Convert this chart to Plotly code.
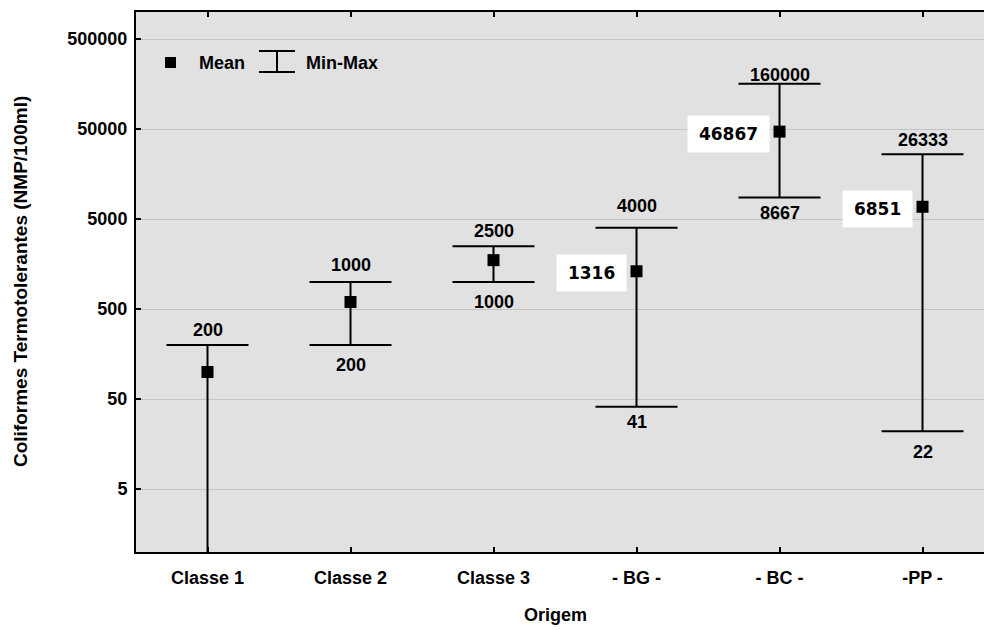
import numpy as np
import plotly.graph_objects as go

# Thermotolerant coliforms by origin: mean with min-max range
categories = ["Classe 1", "Classe 2", "Classe 3", "- BG -", "- BC -", "-PP -"]
mean_vals = [100, 600, 1750, 1316, 46867, 6851]
min_vals = [0, 200, 1000, 41, 8667, 22]
max_vals = [200, 1000, 2500, 4000, 160000, 26333]
mean_labelled = [False, False, False, True, True, True]
min_labelled = [False, True, True, True, True, True]

y_tickvals = [5, 50, 500, 5000, 50000, 500000]
y_ticktext = ["5", "50", "500", "5000", "50000", "500000"]

# label offsets (px) from the caps
max_label_dy = [15, 17, 15, 22, 9, 14]
min_label_dy = [20, 20, 20, 15, 15, 21]

W, H = 984, 630
ML, MR, MT, MB = 136, 0, 12, 78
PW, PH = W - ML - MR, H - MT - MB
FONT = "Liberation Sans, Arial, sans-serif"
TXT = dict(family=FONT, size=18, color="black", weight="bold")
MEAN_TXT = dict(family="DejaVu Sans, Liberation Sans, sans-serif", size=17, color="black", weight="bold")


def px(x):
    return (x - ML) / PW


def py(y):
    return (H - MB - y) / PH


mean_arr = np.array(mean_vals, dtype=float)
err_plus = np.array(max_vals, dtype=float) - mean_arr
err_minus = mean_arr - np.array(min_vals, dtype=float)

fig = go.Figure()
fig.add_trace(go.Scatter(
    x=categories, y=mean_vals, mode="markers",
    marker=dict(symbol="square", size=12, color="black"),
    error_y=dict(type="data", symmetric=False, array=err_plus, arrayminus=err_minus,
                 color="black", thickness=2, width=41),
    showlegend=False, hoverinfo="skip",
))

annotations = []
for i, cat in enumerate(categories):
    annotations.append(dict(
        x=cat, y=np.log10(max_vals[i]), xref="x", yref="y", text=str(max_vals[i]),
        showarrow=False, yshift=max_label_dy[i], font=TXT,
    ))
    if min_labelled[i]:
        annotations.append(dict(
            x=cat, y=np.log10(min_vals[i]), xref="x", yref="y", text=str(min_vals[i]),
            showarrow=False, yshift=-min_label_dy[i], font=TXT,
        ))
    if mean_labelled[i]:
        txt = str(mean_vals[i])
        annotations.append(dict(
            x=cat, y=np.log10(mean_vals[i]), xref="x", yref="y", text="<b>" + txt + "</b>",
            showarrow=False, xanchor="right", xshift=-10, yshift=-2,
            bgcolor="white", borderpad=7, width=len(txt) * 11.8 + 8, height=22,
            font=MEAN_TXT,
        ))

# axis titles
annotations.append(dict(
    x=px(555), y=py(615), xref="paper", yref="paper", text="Origem", showarrow=False,
    xanchor="center", yanchor="middle", font=TXT,
))
annotations.append(dict(
    x=px(20), y=py(282), xref="paper", yref="paper", text="Coliformes Termotolerantes (NMP/100ml)",
    showarrow=False, textangle=-90, xanchor="center", yanchor="middle",
    font=dict(family=FONT, size=19, color="black", weight="bold"),
))

# legend: square marker "Mean", I-beam "Min-Max"
annotations.append(dict(
    x=px(197), y=py(62.5), xref="paper", yref="paper", text="Mean", showarrow=False,
    xanchor="left", yanchor="middle", font=TXT,
))
annotations.append(dict(
    x=px(304), y=py(62.5), xref="paper", yref="paper", text="Min-Max", showarrow=False,
    xanchor="left", yanchor="middle", font=TXT,
))
shapes = [
    dict(type="rect", xref="paper", yref="paper", x0=px(165), x1=px(176), y0=py(68), y1=py(57),
         fillcolor="black", line=dict(width=0)),
    dict(type="line", xref="paper", yref="paper", x0=px(259), x1=px(295), y0=py(51), y1=py(51),
         line=dict(color="black", width=2)),
    dict(type="line", xref="paper", yref="paper", x0=px(259), x1=px(295), y0=py(72), y1=py(72),
         line=dict(color="black", width=2)),
    dict(type="line", xref="paper", yref="paper", x0=px(277), x1=px(277), y0=py(51), y1=py(72),
         line=dict(color="black", width=2)),
]

fig.update_layout(
    width=W, height=H,
    margin=dict(l=ML, r=MR, t=MT, b=MB, pad=0),
    paper_bgcolor="white", plot_bgcolor="#e1e1e1",
    font=TXT,
    annotations=annotations, shapes=shapes, showlegend=False,
)
fig.update_xaxes(
    type="category", range=[-0.5, 5.43],
    showline=True, linecolor="black", linewidth=2, mirror="ticks",
    ticks="inside", ticklen=5, tickwidth=2, tickcolor="black",
    showgrid=False, tickfont=TXT, ticklabelstandoff=8,
)
fig.update_yaxes(
    type="log", range=[0, 6],
    tickvals=y_tickvals, ticktext=y_ticktext,
    showline=True, linecolor="black", linewidth=2, mirror=False,
    ticks="inside", ticklen=5, tickwidth=2, tickcolor="black",
    showgrid=True, gridcolor="#c4c4c4", gridwidth=1, zeroline=False,
    tickfont=TXT, ticklabelstandoff=3,
)

fig.write_html("out.html")
